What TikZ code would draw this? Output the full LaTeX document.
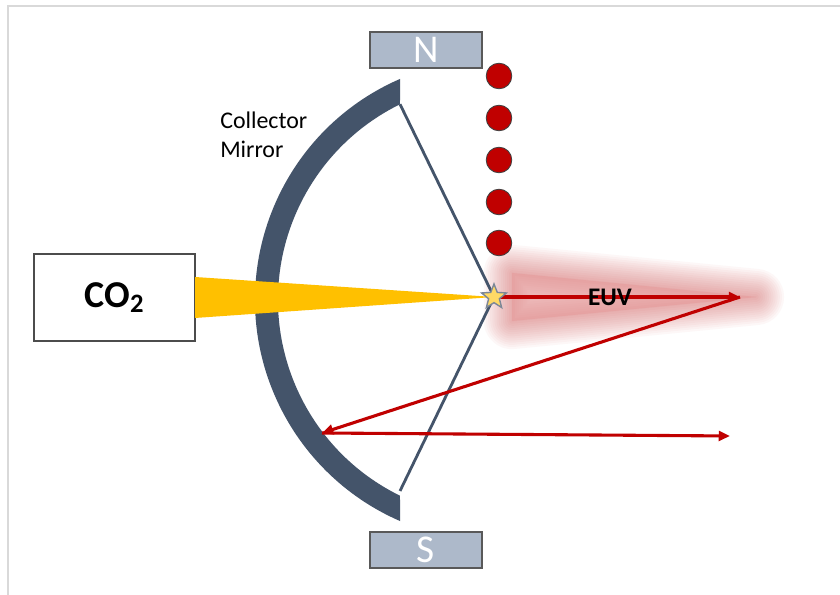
\documentclass[tikz,border=0pt]{standalone}
\usepackage{fontspec}
\setmainfont{Carlito}
\usetikzlibrary{arrows.meta,shapes.geometric}

\definecolor{slate}{HTML}{44546A}
\definecolor{magnet}{HTML}{ADB9CA}
\definecolor{euvred}{HTML}{C00000}
\definecolor{laser}{HTML}{FFC000}
\definecolor{spark}{HTML}{FFD966}
\definecolor{framegray}{HTML}{D9D9D9}

\begin{document}
\begin{tikzpicture}[
   magnetbox/.style={draw=black!65, fill=magnet, line width=1pt, minimum width=2.8cm,
     minimum height=0.9cm, inner sep=0pt, text=white, font=\fontsize{28}{28}\selectfont},
   droplet/.style={circle, draw=black!75, fill=euvred, line width=0.6pt,
     minimum width=0.58cm, minimum height=0.64cm, inner sep=0pt},
   ray/.style={euvred, line width=2.2pt, -{Triangle[length=8pt,width=7pt]}},
   strut/.style={slate, line width=2pt},
   haze/.style={draw=euvred!70, opacity=.04, line join=round}
]
   \useasboundingbox (0,0) rectangle (21,14.875);
   \fill [white] (0,0) rectangle (21,14.875);
   \draw [framegray, line width=1.6pt] (0.2,0) |- (21,14.725);

   % key points
   \coordinate (ctr) at (12.4,7.375);
   \coordinate (star) at (12.35,7.45);
   \coordinate (mtop) at (10.0,12.27);
   \coordinate (mbot) at (10.0,2.6);
   \coordinate (turn) at (18.5,7.45);
   \coordinate (hit) at (8.05,4.05);
   \coordinate (out) at (18.25,3.975);
   \coordinate (beamtop) at (4.875,7.95);
   \coordinate (beambot) at (4.875,6.925);

   % EUV glow
   \foreach \w in {1,4,...,40}
     \draw [haze, line width=\w pt] (12.8,8.05) -- (18.9,7.45) -- (12.8,6.85) -- cycle;
   \fill [euvred!40, opacity=.55] (12.8,8.05) -- (18.9,7.45) -- (12.8,6.85) -- cycle;

   % struts to the focus
   \draw [strut] (mtop) -- (star) -- (mbot);

   % collector mirror
   \fill [slate] ([shift={(ctr)}]113.47:6.025) arc [start angle=113.47, end angle=246.53, radius=6.025]
     -- ([shift={(ctr)}]243.87:5.45) arc [start angle=243.87, end angle=116.13, radius=5.45] -- cycle;
   \node (mirror) [anchor=west, align=left, inner sep=0pt, font=\fontsize{17}{21}\selectfont]
     at (5.5,11.5) {Collector\\Mirror};

   % laser
   \node (co2) [draw=black!70, line width=1pt, fill=white, minimum width=4.025cm,
     minimum height=2.175cm, font=\bfseries\fontsize{27}{27}\selectfont] at (2.8625,7.4375) {CO\textsubscript{2}};
   \fill [laser] (beamtop) -- (star) -- (beambot) -- cycle;

   % tin droplets
   \foreach \y [count=\i] in {12.975,11.925,10.875,9.825,8.8}
     \node (drop\i) [droplet] at (12.475,\y) {};

   % magnets
   \node (north) [magnetbox] at (10.65,13.625) {N};
   \node (south) [magnetbox] at (10.65,1.125) {S};

   % light path
   \draw [ray] (star) -- (turn);
   \draw [ray] (turn) -- (hit);
   \draw [ray] (hit) -- (out);
   \node (euv) [font=\bfseries\fontsize{18}{18}\selectfont] at (15.25,7.45) {EUV};

   \node (plasma) [star, star points=5, star point ratio=2.3, draw=slate!70, line width=1pt,
     fill=spark, minimum size=0.65cm, inner sep=0pt] at (star) {};
\end{tikzpicture}
\end{document}
